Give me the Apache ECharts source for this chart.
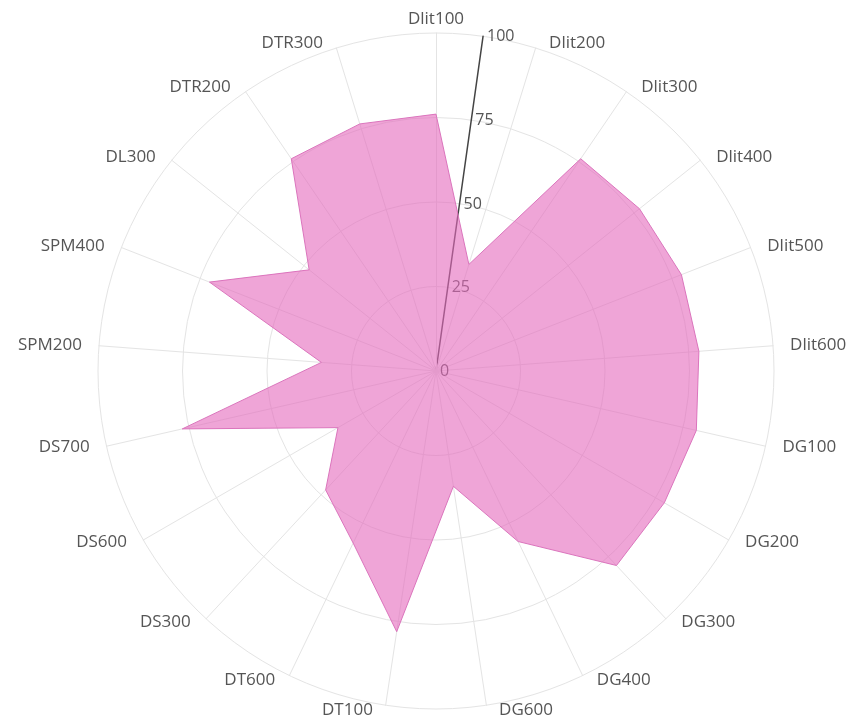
<!DOCTYPE html>
<html>
<head>
<meta charset="utf-8">
<script src="https://cdn.jsdelivr.net/npm/echarts@6/dist/echarts.min.js"></script>
<style>
html,body{margin:0;padding:0;background:#ffffff;}
#chart{width:865px;height:720px;}
</style>
</head>
<body>
<div id="chart"></div>
<script>
// categories, clockwise starting at the top
const categories = ['Dlit100','Dlit200','Dlit300','Dlit400','Dlit500','Dlit600',
  'DG100','DG200','DG300','DG400','DG600','DT100','DT600','DS300','DS600','DS700',
  'SPM200','SPM400','DL300','DTR200','DTR300'];
const values = [76, 33, 76, 77, 78, 78,
  79, 78, 78.5, 56, 34.5, 78, 56.5, 48, 33.5, 77,
  34, 72, 48, 76, 76.5];
const radialTicks = [0, 25, 50, 75, 100];

const CX = 436, CY = 371, R = 338;
const textColor = '#555555';
const gridColor = '#e4e4e4';
const font = 'Open Sans';

// radar places indicators counter-clockwise; reorder so they read clockwise
const order = [0].concat(categories.map((_, i) => i).slice(1).reverse());
const indicators = order.map(i => ({ name: categories[i], max: radialTicks[radialTicks.length - 1], min: radialTicks[0] }));
const ordered = order.map(i => values[i]);

const chart = echarts.init(document.getElementById('chart'), null, { renderer: 'canvas' });
chart.setOption({
  backgroundColor: '#ffffff',
  animation: false,
  radar: {
    center: [CX, CY],
    radius: R,
    startAngle: 90,
    shape: 'circle',
    splitNumber: radialTicks.length - 1,
    indicator: indicators,
    nameGap: 5,
    axisName: { color: textColor, fontSize: 17, fontFamily: font, padding: [0, 12, 0, 12] },
    axisLine: { lineStyle: { color: gridColor, width: 1 } },
    axisTick: { show: false },
    axisLabel: { show: false },
    splitLine: { lineStyle: { color: gridColor, width: 1 } },
    splitArea: { show: false }
  },
  polar: { center: [CX, CY], radius: R },
  angleAxis: {
    type: 'value', min: 0, max: 360, startAngle: 82, clockwise: true,
    show: false, axisLine: { show: false }, axisLabel: { show: false },
    axisTick: { show: false }, splitLine: { show: false }
  },
  radiusAxis: {
    type: 'value', min: radialTicks[0], max: radialTicks[radialTicks.length - 1], interval: 25,
    axisLine: { show: true, lineStyle: { color: '#444444', width: 1.5 } },
    axisTick: { show: false },
    axisLabel: { show: true, color: textColor, fontSize: 16, fontFamily: font,
      margin: -4, align: 'left', showMinLabel: true, showMaxLabel: true },
    splitLine: { show: false }
  },
  series: [{
    type: 'radar',
    symbol: 'none',
    lineStyle: { color: '#d77bbd', width: 1 },
    areaStyle: { color: 'rgba(228,105,188,0.6)', opacity: 1 },
    data: [{ value: ordered, name: 'values' }]
  }]
});
</script>
</body>
</html>
